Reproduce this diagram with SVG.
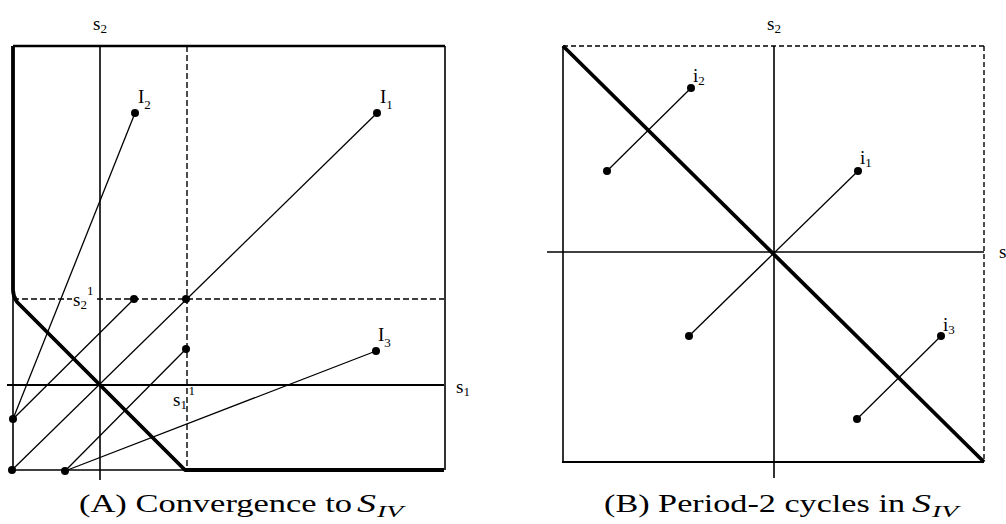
<svg xmlns="http://www.w3.org/2000/svg" width="1006" height="524" viewBox="0 0 1006 524">
<style>
.ax{stroke:#000;stroke-width:1.6;fill:none}
.thin{stroke:#000;stroke-width:1.3;fill:none}
.thick{stroke:#000;stroke-width:3.8;fill:none;stroke-linejoin:round}
.dash{stroke:#000;stroke-width:1.4;stroke-dasharray:6 3;fill:none}
.dash2{stroke:#000;stroke-width:1.4;stroke-dasharray:5 3;fill:none}
.dot{fill:#000}
.lbl{font-family:"Liberation Serif","Times New Roman",serif;font-size:19px;fill:#000}
.sub{font-size:13px}
.cap{font-family:"Liberation Serif","Times New Roman",serif;font-size:25px;fill:#000}
.capi{font-family:"Liberation Serif","Times New Roman",serif;font-style:italic;fill:#000}
</style>
<rect width="1006" height="524" fill="#fff"/>

<!-- Panel A frame and axes -->
<g id="panelA-frame">
  <line class="ax" x1="13" y1="46" x2="445" y2="46" style="stroke-width:2.6"/>
  <line class="ax" x1="445" y1="46" x2="445" y2="470"/>
  <line class="ax" x1="13" y1="290" x2="13" y2="470"/>
  <line class="ax" x1="10" y1="470" x2="186" y2="470"/>
  <path class="thick" d="M13,46 L13,290 Q13,296 17,302 L185,470 L444,470"/>
  <line class="ax" x1="100" y1="46" x2="100" y2="480"/>
  <line class="ax" x1="7" y1="385" x2="444" y2="385" style="stroke-width:1.8"/>
  <line class="dash" x1="187" y1="46" x2="187" y2="470"/>
  <line class="dash" x1="13" y1="299" x2="72" y2="299"/>
  <line class="dash" x1="97" y1="299" x2="444" y2="299"/>
  <text class="lbl" x="93" y="30">s<tspan class="sub" dy="3">2</tspan></text>
  <text class="lbl" x="456" y="393">s<tspan class="sub" dy="3">1</tspan></text>
  <text class="lbl" x="73" y="306">s<tspan class="sub" dy="3">2</tspan><tspan class="sub" dy="-14">1</tspan></text>
  <text class="lbl" x="173" y="406">s<tspan class="sub" dy="3">1</tspan><tspan class="sub" dx="2" dy="-14">1</tspan></text>
</g>

<!-- Panel B frame and axes -->
<g id="panelB-frame">
  <line class="ax" x1="563" y1="46" x2="563" y2="462"/>
  <line class="ax" x1="562" y1="462" x2="984" y2="462" style="stroke-width:2"/>
  <line class="dash2" x1="563" y1="46" x2="984" y2="46"/>
  <line class="dash2" x1="984" y1="46" x2="984" y2="462"/>
  <line class="ax" x1="774" y1="46" x2="774" y2="478"/>
  <line class="ax" x1="547" y1="252" x2="984" y2="252"/>
  <line class="thick" x1="563" y1="46" x2="984" y2="462"/>
  <text class="lbl" x="767" y="30">s<tspan class="sub" dy="3">2</tspan></text>
  <text class="lbl" x="999" y="258">s</text>
</g>

<!-- connectors -->
<g id="connectors">
  <line class="thin" x1="135" y1="113" x2="13" y2="419"/>
  <line class="thin" x1="377" y1="113" x2="12" y2="470"/>
  <line class="thin" x1="134" y1="299" x2="13" y2="419"/>
  <line class="thin" x1="186" y1="349" x2="65" y2="471"/>
  <line class="thin" x1="376" y1="351" x2="65" y2="471"/>
  <line class="thin" x1="691" y1="88" x2="607" y2="171"/>
  <line class="thin" x1="858" y1="171" x2="689" y2="336"/>
  <line class="thin" x1="941" y1="336" x2="857" y2="419"/>
</g>

<!-- Panel A nodes -->
<g id="I2"><circle class="dot" cx="135" cy="113" r="4"/><text class="lbl" x="138" y="103">I<tspan class="sub" dy="6">2</tspan></text></g>
<g id="I1"><circle class="dot" cx="377" cy="113" r="4"/><text class="lbl" x="380" y="103">I<tspan class="sub" dy="6">1</tspan></text></g>
<g id="I3"><circle class="dot" cx="376" cy="351" r="4"/><text class="lbl" x="378" y="341">I<tspan class="sub" dy="6">3</tspan></text></g>
<g id="pA1"><circle class="dot" cx="134" cy="299" r="4"/></g>
<g id="pA2"><circle class="dot" cx="186" cy="299" r="4"/></g>
<g id="pA3"><circle class="dot" cx="186" cy="349" r="4"/></g>
<g id="pA4"><circle class="dot" cx="13" cy="419" r="4"/></g>
<g id="pA5"><circle class="dot" cx="12" cy="470" r="4"/></g>
<g id="pA6"><circle class="dot" cx="65" cy="471" r="4"/></g>

<!-- Panel B nodes -->
<g id="i2"><circle class="dot" cx="691" cy="88" r="4"/><text class="lbl" x="693" y="82">i<tspan class="sub" dy="3">2</tspan></text></g>
<g id="pB1"><circle class="dot" cx="607" cy="171" r="4"/></g>
<g id="i1"><circle class="dot" cx="858" cy="171" r="4"/><text class="lbl" x="860" y="164">i<tspan class="sub" dy="3">1</tspan></text></g>
<g id="pB2"><circle class="dot" cx="689" cy="336" r="4"/></g>
<g id="i3"><circle class="dot" cx="941" cy="336" r="4"/><text class="lbl" x="943" y="331">i<tspan class="sub" dy="3">3</tspan></text></g>
<g id="pB3"><circle class="dot" cx="857" cy="419" r="4"/></g>

<!-- captions -->
<g id="captionA">
  <text class="cap" x="79" y="512" textLength="273" lengthAdjust="spacingAndGlyphs">(A) Convergence to</text>
  <text class="capi" x="357" y="512" font-size="26" textLength="19" lengthAdjust="spacingAndGlyphs">S</text>
  <text class="capi" x="377" y="517" font-size="17" textLength="26" lengthAdjust="spacingAndGlyphs">IV</text>
</g>
<g id="captionB">
  <text class="cap" x="604" y="512" textLength="301" lengthAdjust="spacingAndGlyphs">(B) Period-2 cycles in</text>
  <text class="capi" x="912" y="512" font-size="26" textLength="19" lengthAdjust="spacingAndGlyphs">S</text>
  <text class="capi" x="932" y="517" font-size="17" textLength="26" lengthAdjust="spacingAndGlyphs">IV</text>
</g>
</svg>
